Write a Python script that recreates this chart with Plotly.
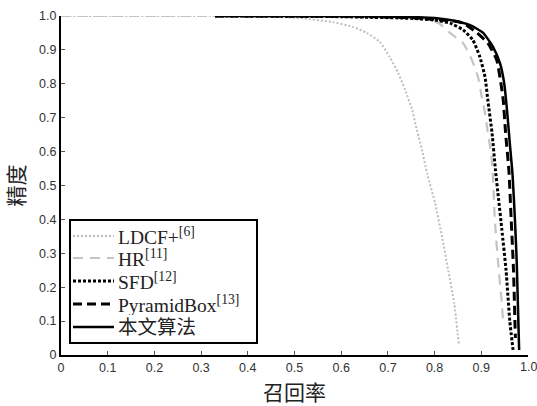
import plotly.graph_objects as go

# ---- data ----
ldcf_x = [0, 0.3, 0.45, 0.512, 0.582, 0.625, 0.655, 0.683, 0.704, 0.722, 0.737, 0.752, 0.762, 0.773, 0.784, 0.801, 0.816, 0.829, 0.842, 0.852]
ldcf_y = [1, 1, 0.998, 0.994, 0.982, 0.968, 0.95, 0.923, 0.879, 0.832, 0.782, 0.723, 0.664, 0.605, 0.535, 0.448, 0.348, 0.251, 0.153, 0.03]

hr_x = [0, 0.5, 0.7, 0.78, 0.81, 0.833, 0.861, 0.88, 0.893, 0.901, 0.908, 0.914, 0.921, 0.925, 0.929, 0.936, 0.944, 0.947]
hr_y = [1, 1, 0.997, 0.99, 0.978, 0.95, 0.92, 0.87, 0.82, 0.761, 0.714, 0.655, 0.596, 0.525, 0.398, 0.271, 0.153, 0.09]

sfd_x = [0.33, 0.6, 0.75, 0.80, 0.833, 0.861, 0.882, 0.897, 0.908, 0.914, 0.923, 0.930, 0.937, 0.944, 0.953, 0.961, 0.968]
sfd_y = [1, 0.998, 0.993, 0.988, 0.979, 0.959, 0.929, 0.879, 0.82, 0.752, 0.655, 0.55, 0.46, 0.37, 0.25, 0.10, 0.015]

pb_x = [0.33, 0.6, 0.75, 0.80, 0.84, 0.861, 0.891, 0.914, 0.933, 0.941, 0.947, 0.952, 0.959, 0.964, 0.969, 0.972, 0.973]
pb_y = [1, 0.999, 0.995, 0.99, 0.985, 0.979, 0.95, 0.92, 0.87, 0.811, 0.752, 0.655, 0.546, 0.40, 0.25, 0.10, 0.05]

ours_x = [0.33, 0.6, 0.75, 0.80, 0.833, 0.876, 0.904, 0.925, 0.94, 0.949, 0.955, 0.961, 0.967, 0.972, 0.976, 0.981]
ours_y = [1, 1, 0.997, 0.994, 0.988, 0.973, 0.95, 0.909, 0.861, 0.802, 0.723, 0.625, 0.53, 0.40, 0.27, 0.015]

names = ["LDCF+<sup>[6]</sup>", "HR<sup>[11]</sup>", "SFD<sup>[12]</sup>",
         "PyramidBox<sup>[13]</sup>", "本文算法"]

tick_vals = [0, 0.1, 0.2, 0.3, 0.4, 0.5, 0.6, 0.7, 0.8, 0.9, 1.0]
tick_text = ["0", "0.1", "0.2", "0.3", "0.4", "0.5", "0.6", "0.7", "0.8", "0.9", "1.0"]

colors = ["#bdbdbd", "#c4c4c4", "#000000", "#000000", "#000000"]
widths = [2, 2.2, 3, 3, 2.5]
dashes = ["2px,2px", "10px,7px", "3px,2px", "9px,5px", "solid"]
xs_all = [ldcf_x, hr_x, sfd_x, pb_x, ours_x]
ys_all = [ldcf_y, hr_y, sfd_y, pb_y, ours_y]

fig = go.Figure()
for xs, ys, nm, col, w, dash in zip(xs_all, ys_all, names, colors, widths, dashes):
    fig.add_trace(go.Scatter(
        x=xs, y=ys, name=nm, mode="lines", showlegend=False,
        line=dict(color=col, width=w, dash=dash, shape="spline", smoothing=0.5),
    ))

# ---- hand-built legend box (paper coordinates of the plot area) ----
L, R, T, B = 61, 528, 16, 355
W, H = R - L, B - T
def px(x): return (x - L) / W
def py(y): return (B - y) / H

shapes = [dict(type="rect", xref="paper", yref="paper",
               x0=px(70), x1=px(257), y0=py(343), y1=py(220),
               line=dict(color="black", width=2), fillcolor="white", layer="above")]
annotations = []
row_y = [236, 258, 281, 304, 327]
for i, nm in enumerate(names):
    yy = py(row_y[i])
    shapes.append(dict(type="line", xref="paper", yref="paper",
                       x0=px(73), x1=px(114), y0=yy, y1=yy,
                       line=dict(color=colors[i], width=widths[i], dash=dashes[i]),
                       layer="above"))
    annotations.append(dict(xref="paper", yref="paper", x=px(116), y=yy,
                            xanchor="left", yanchor="middle", showarrow=False,
                            text=nm, height=22, valign="middle",
                            font=dict(family="Liberation Serif, Times New Roman, Noto Sans CJK SC",
                                      size=19.5, color="#222")))

tick_font = dict(family="Liberation Sans, Arial", size=12.5, color="#333")

# the last x tick label sits on the page edge; plotly drops it, so place it as text
x_ticktext = tick_text[:-1] + [""]
annotations.append(dict(xref="paper", yref="paper", x=1.0, y=0,
                        xanchor="center", yanchor="top", yshift=-3,
                        showarrow=False, text=tick_text[-1], font=tick_font))

axis_common = dict(
    tickvals=tick_vals,
    showline=True, linecolor="black", linewidth=2,
    ticks="inside", ticklen=4, tickcolor="#555", tickwidth=1,
    showgrid=False, zeroline=False, automargin=False,
    tickfont=tick_font,
)

fig.update_layout(
    width=537, height=406,
    margin=dict(l=61, r=9, t=16, b=51, autoexpand=False),
    paper_bgcolor="white", plot_bgcolor="white",
    xaxis=dict(**axis_common, range=[0, 1], ticktext=x_ticktext,
               title=dict(text="召回率", standoff=14,
                          font=dict(family="Noto Sans CJK SC", size=21, color="#222"))),
    yaxis=dict(**axis_common, range=[0, 1], ticktext=tick_text,
               title=dict(text="精度", standoff=10,
                          font=dict(family="Noto Sans CJK SC", size=21, color="#222"))),
    shapes=shapes,
    annotations=annotations,
    showlegend=False,
)

fig.write_html("out.html")
